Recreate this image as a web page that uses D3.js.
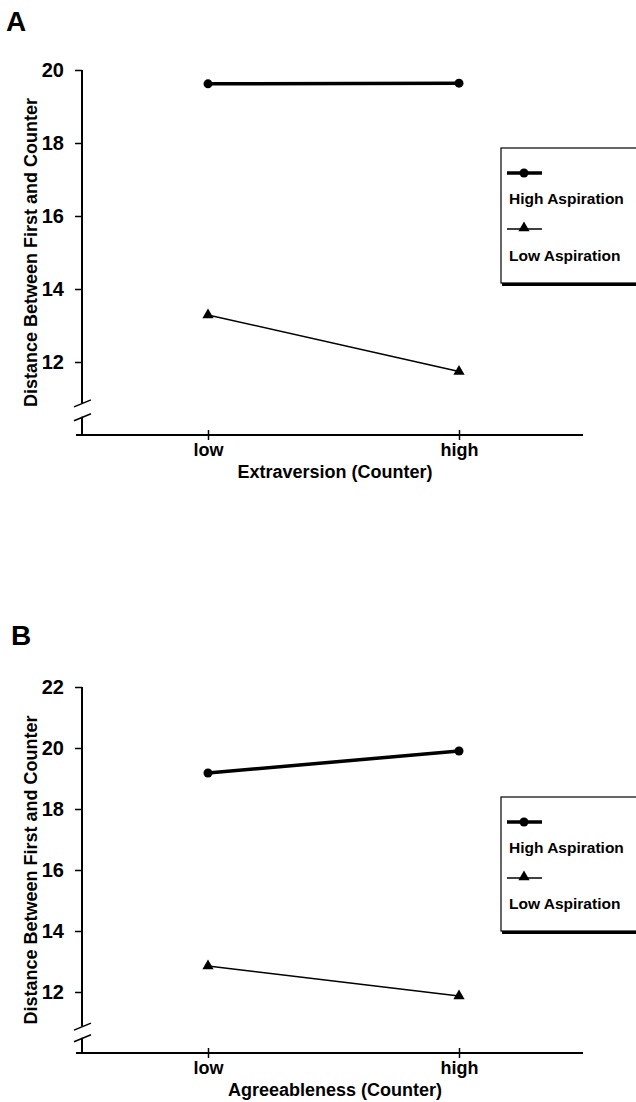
<!DOCTYPE html>
<html>
<head>
<meta charset="utf-8">
<script src="https://cdn.jsdelivr.net/npm/d3@7"></script>
<style>
  body { margin: 0; background: #fff; }
  text { font-family: "Liberation Sans", Arial, sans-serif; font-weight: bold; fill: #000; }
</style>
</head>
<body>
<div id="chart"></div>
<script>
// Data
var levels = ["low", "high"];
var seriesNames = ["High Aspiration", "Low Aspiration"];

var extraHigh = [19.62, 19.64];
var extraLow = [13.29, 11.74];
var extraTicks = [12, 14, 16, 18, 20];

var agreeHigh = [19.18, 19.9];
var agreeLow = [12.85, 11.87];
var agreeTicks = [12, 14, 16, 18, 20, 22];

var svg = d3.select("#chart")
    .append("svg")
    .attr("width", 636)
    .attr("height", 1102);

function drawPanel(cfg) {
    var g = svg.append("g");

    // panel letter
    g.append("text")
        .attr("x", cfg.letterX)
        .attr("y", cfg.letterY)
        .attr("font-size", "28px")
        .text(cfg.letter);

    var yScale = d3.scaleLinear()
        .domain([10, cfg.yMax])
        .range([cfg.bottom, cfg.top]);

    var xScale = d3.scalePoint()
        .domain(levels)
        .range([208, 459]);

    // y axis with break
    var yAxis = d3.axisLeft(yScale)
        .tickValues(cfg.ticks)
        .tickSize(7)
        .tickPadding(11)
        .tickFormat(d3.format("d"));

    var yg = g.append("g")
        .attr("transform", "translate(82,0)")
        .call(yAxis);
    yg.select(".domain").remove();
    yg.selectAll(".tick line").attr("stroke", "#000").attr("stroke-width", 1.5);
    yg.selectAll(".tick text").attr("font-size", "20px").attr("font-family", "Liberation Sans, Arial, sans-serif").attr("font-weight", "bold");

    var b1 = yScale(10.88), b2 = yScale(10.5);
    g.append("line")
        .attr("x1", 82).attr("x2", 82)
        .attr("y1", yScale(cfg.yMax)).attr("y2", b1)
        .attr("stroke", "#000").attr("stroke-width", 2);
    g.append("line")
        .attr("x1", 82).attr("x2", 82)
        .attr("y1", b2).attr("y2", cfg.bottom)
        .attr("stroke", "#000").attr("stroke-width", 2);
    [b1, b2].forEach(function (b) {
        g.append("line")
            .attr("x1", 74).attr("x2", 91)
            .attr("y1", b + 4).attr("y2", b - 3)
            .attr("stroke", "#000").attr("stroke-width", 1.5);
    });

    // x axis
    var xAxis = d3.axisBottom(xScale)
        .tickSize(5)
        .tickPadding(3);
    var xg = g.append("g")
        .attr("transform", "translate(0," + cfg.bottom + ")")
        .call(xAxis);
    xg.select(".domain").remove();
    xg.selectAll(".tick line").attr("y1", -5).attr("stroke", "#000").attr("stroke-width", 1.5);
    xg.selectAll(".tick text").attr("font-size", "18px").attr("font-family", "Liberation Sans, Arial, sans-serif").attr("font-weight", "bold");
    g.append("line")
        .attr("x1", 76).attr("x2", 583)
        .attr("y1", cfg.bottom).attr("y2", cfg.bottom)
        .attr("stroke", "#000").attr("stroke-width", 2);

    // axis titles
    g.append("text")
        .attr("x", 335)
        .attr("y", cfg.bottom + 43)
        .attr("text-anchor", "middle")
        .attr("font-size", "18px")
        .text(cfg.xTitle);

    g.append("text")
        .attr("transform", "translate(37," + (cfg.top + cfg.bottom) / 2 + ") rotate(-90)")
        .attr("text-anchor", "middle")
        .attr("font-size", "18px")
        .text("Distance Between First and Counter");

    // lines and markers
    var line = d3.line()
        .x(function (d, i) { return xScale(levels[i]); })
        .y(function (d) { return yScale(d); });

    g.append("path")
        .datum(cfg.high)
        .attr("d", line)
        .attr("fill", "none")
        .attr("stroke", "#000")
        .attr("stroke-width", 3.5);

    g.selectAll(".hi")
        .data(cfg.high)
        .enter()
        .append("circle")
        .attr("cx", function (d, i) { return xScale(levels[i]); })
        .attr("cy", function (d) { return yScale(d); })
        .attr("r", 4.5)
        .attr("fill", "#000");

    g.append("path")
        .datum(cfg.low)
        .attr("d", line)
        .attr("fill", "none")
        .attr("stroke", "#000")
        .attr("stroke-width", 1.6);

    var tri = d3.symbol().type(d3.symbolTriangle).size(55);
    g.selectAll(".lo")
        .data(cfg.low)
        .enter()
        .append("path")
        .attr("d", tri)
        .attr("transform", function (d, i) {
            return "translate(" + xScale(levels[i]) + "," + yScale(d) + ")";
        })
        .attr("fill", "#000");

    // legend
    var lg = g.append("g")
        .attr("transform", "translate(501," + cfg.legendTop + ")");
    lg.append("rect")
        .attr("x", 0).attr("y", 0)
        .attr("width", 200).attr("height", cfg.legendH)
        .attr("fill", "#fff")
        .attr("stroke", "#000")
        .attr("stroke-width", 1.2);
    lg.append("line")
        .attr("x1", 1).attr("x2", 200)
        .attr("y1", cfg.legendH + 1.5).attr("y2", cfg.legendH + 1.5)
        .attr("stroke", "#000").attr("stroke-width", 3);

    lg.append("line")
        .attr("x1", 6).attr("x2", 41)
        .attr("y1", 25).attr("y2", 25)
        .attr("stroke", "#000").attr("stroke-width", 3.5);
    lg.append("circle")
        .attr("cx", 23).attr("cy", 25).attr("r", 4.5)
        .attr("fill", "#000");
    lg.append("text")
        .attr("x", 8).attr("y", 56)
        .attr("font-size", "15.5px")
        .text(seriesNames[0]);

    lg.append("line")
        .attr("x1", 6).attr("x2", 41)
        .attr("y1", 81).attr("y2", 81)
        .attr("stroke", "#000").attr("stroke-width", 1.6);
    lg.append("path")
        .attr("d", tri)
        .attr("transform", "translate(23,80)")
        .attr("fill", "#000");
    lg.append("text")
        .attr("x", 8).attr("y", cfg.legendH - 22)
        .attr("font-size", "15.5px")
        .text(seriesNames[1]);
}

drawPanel({
    letter: "A", letterX: 6, letterY: 31,
    yMax: 20, top: 70, bottom: 435,
    ticks: extraTicks,
    high: extraHigh, low: extraLow,
    xTitle: "Extraversion (Counter)",
    legendTop: 148, legendH: 135
});

drawPanel({
    letter: "B", letterX: 11, letterY: 645,
    yMax: 22, top: 687, bottom: 1053,
    ticks: agreeTicks,
    high: agreeHigh, low: agreeLow,
    xTitle: "Agreeableness (Counter)",
    legendTop: 797, legendH: 134
});
</script>
</body>
</html>
